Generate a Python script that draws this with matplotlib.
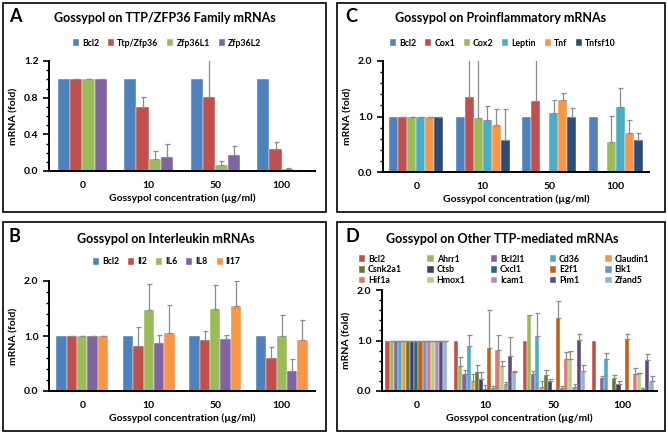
import numpy as np
import matplotlib
matplotlib.use("Agg")
import matplotlib.pyplot as plt
from matplotlib.patches import Rectangle
from matplotlib.ticker import MultipleLocator

plt.rcParams['font.family'] = ['Lato', 'DejaVu Sans']
plt.rcParams['font.weight'] = 'bold'
plt.rcParams['axes.labelweight'] = 'bold'

W, H = 668, 438
conc = ["0", "10", "50", "100"]
nan = np.nan

# Panel A - TTP/ZFP36 family
a_names = ["Bcl2", "Ttp/Zfp36", "Zfp36L1", "Zfp36L2"]
a_vals = [[1.0, 1.0, 1.0, 1.0],
          [1.0, 0.70, 0.81, 0.24],
          [1.0, 0.13, 0.07, 0.02],
          [1.0, 0.15, 0.18, 0.005]]
a_err = [None,
         [0, 0.11, 0.45, 0.08],
         [0, 0.09, 0.04, 0.01],
         [0, 0.15, 0.09, 0.005]]

# Panel B - interleukins
b_names = ["Bcl2", "Il2", "IL6", "IL8", "Il17"]
b_vals = [[1.0, 1.0, 1.0, 1.0],
          [1.0, 0.82, 0.92, 0.60],
          [1.0, 1.47, 1.49, 1.00],
          [1.0, 0.88, 0.94, 0.36],
          [1.0, 1.05, 1.54, 0.93]]
b_err = [None,
         [0, 0.34, 0.18, 0.20],
         [0, 0.48, 0.44, 0.38],
         [0, 0.14, 0.08, 0.22],
         [0, 0.52, 0.46, 0.37]]

# Panel C - proinflammatory
c_names = ["Bcl2", "Cox1", "Cox2", "Leptin", "Tnf", "Tnfsf10"]
c_vals = [[1.0, 1.0, 1.0, 1.0],
          [1.0, 1.35, 1.28, 0],
          [1.0, 0.97, 0, 0.54],
          [1.0, 0.94, 1.07, 1.17],
          [1.0, 0.85, 1.29, 0.70],
          [1.0, 0.57, 1.00, 0.57]]
c_err = [None,
         [0, 1.0, 1.0, nan],
         [0, 1.2, nan, 0.47],
         [0, 0.25, 0.23, 0.35],
         [0, 0.29, 0.13, 0.24],
         [0, 0.57, 0.15, 0.13]]

# Panel D - other TTP-mediated
d_names = ["Bcl2", "Ahrr1", "Bcl2l1", "Cd36", "Claudin1",
           "Csnk2a1", "Ctsb", "Cxcl1", "E2f1", "Elk1",
           "Hif1a", "Hmox1", "Icam1", "Pim1", "Zfand5"]
d_vals = [[1.0, 1.0, 1.0, 1.0],
          [1.0, 0.50, 1.51, 0],
          [1.0, 0.33, 0.33, 0.25],
          [1.0, 0.90, 1.09, 0.64],
          [1.0, 0.20, 0.08, 0],
          [1.0, 0.37, 0.32, 0.25],
          [1.0, 0.23, 0.19, 0.14],
          [1.0, 0.03, 0.01, 0],
          [1.0, 0.85, 1.44, 1.03],
          [1.0, 0.05, 0.05, 0],
          [1.0, 0.81, 0.63, 0.33],
          [1.0, 0.50, 0.63, 0.35],
          [1.0, 0.13, 0.07, 0.05],
          [1.0, 0.69, 1.01, 0.62],
          [1.0, 0.37, 0.39, 0.20]]
d_err = [None,
         [0, 0.17, nan, nan],
         [0, 0.08, 0.07, 0.05],
         [0, 0.20, 0.46, 0.12],
         [0, 0.14, 0.12, nan],
         [0, 0.14, 0.10, 0.07],
         [0, 0.14, 0.05, 0.06],
         [0, 0.09, 0.01, nan],
         [0, 0.75, 0.34, 0.09],
         [0, 0.04, 0.05, nan],
         [0, 0.29, 0.15, 0.13],
         [0, 0.10, 0.16, 0.01],
         [0, 0.05, 0.07, 0.0],
         [0, 0.37, 0.11, 0.11],
         [0, 0.03, 0.12, 0.10]]

c_blue, c_red, c_green, c_purple = "#4F81BD", "#C0504D", "#9BBB59", "#8064A2"
c_aqua, c_orange, c_navy = "#4BACC6", "#F79646", "#2C4D75"
a_colors = [c_blue, c_red, c_green, c_purple]
b_colors = [c_blue, c_red, c_green, c_purple, c_orange]
c_colors = [c_blue, c_red, c_green, c_aqua, c_orange, c_navy]
d_colors = [c_red, c_green, c_purple, c_aqua, c_orange,
            "#5E7A2E", "#4B3A66", "#25697A", "#C0601B", "#6F93C9",
            "#DC7A78", "#B5CF8A", "#A592C2", "#604A7B", "#95B3D7"]

fig = plt.figure(figsize=(W / 100, H / 100), dpi=100)


def box(l, t, r, b):
    fig.patches.append(Rectangle((l / W, 1 - b / H), (r - l) / W, (b - t) / H,
                                 transform=fig.transFigure, fill=False,
                                 edgecolor="black", linewidth=1.2))


def make_ax(l, t, r, b):
    return fig.add_axes([l / W, 1 - b / H, (r - l) / W, (b - t) / H])


def draw_panel(ax, names, vals, errs, colors, frac, ymax, major, minor):
    n = len(names)
    x = np.arange(len(conc))
    w = frac / n
    handles = []
    for i in range(n):
        pos = x - frac / 2 + w * (i + 0.5)
        h = ax.bar(pos, vals[i], w, color=colors[i], label=names[i],
                   edgecolor="white", linewidth=0.3)
        handles.append(h)
        if errs[i] is not None:
            e = np.array(errs[i], float)
            ax.errorbar(pos, vals[i], yerr=[np.zeros_like(e), e], fmt="none",
                        ecolor="#8C8C8C", elinewidth=0.9, capsize=1.8,
                        capthick=0.9)
    ax.set_xlim(-0.5, 3.5)
    ax.set_ylim(0, ymax)
    ax.set_xticks(x)
    ax.set_xticklabels(conc)
    ax.yaxis.set_major_locator(MultipleLocator(major))
    ax.yaxis.set_minor_locator(MultipleLocator(minor))
    ax.yaxis.set_major_formatter(plt.FormatStrFormatter("%.1f"))
    ax.tick_params(axis="y", which="major", length=4, width=1.2, labelsize=7.5)
    ax.tick_params(axis="y", which="minor", length=2.5, width=1.0)
    ax.tick_params(axis="x", length=0, labelsize=7.5, pad=7)
    for lbl in ax.get_xticklabels() + ax.get_yticklabels():
        lbl.set_fontweight("bold")
    for s in ["top", "right"]:
        ax.spines[s].set_visible(False)
    for s in ["left", "bottom"]:
        ax.spines[s].set_linewidth(1.4)
    ax.set_ylabel("mRNA (fold)", fontsize=7.5, fontweight="bold", labelpad=4)
    ax.set_xlabel("Gossypol concentration (\u00b5g/ml)", fontsize=7.5,
                  fontweight="bold", labelpad=3)
    return handles


def legend(ax, handles, names, cx, cy, ncol, colsp=1.0):
    ax.legend(handles, names, loc="center", bbox_to_anchor=(cx / W, 1 - cy / H),
              bbox_transform=fig.transFigure, ncol=ncol, frameon=False,
              prop={"size": 6.3, "weight": "bold"},
              handlelength=0.7, handleheight=0.7,
              handletextpad=0.35, columnspacing=colsp, borderaxespad=0,
              labelspacing=0.22)


# boxes
box(3, 3, 326, 212)
box(337, 3, 665, 212)
box(3, 222, 326, 431)
box(337, 222, 665, 431)

tsize = 9.0

# A
ax = make_ax(49, 61, 315, 171)
hs = draw_panel(ax, a_names, a_vals, a_err, a_colors, 0.74, 1.2, 0.4, 0.1)
legend(ax, hs, a_names, 167, 43, 4)
fig.text(165 / W, 1 - 18 / H, "Gossypol on TTP/ZFP36 Family mRNAs",
         ha="center", va="center", fontsize=tsize, fontweight="bold")
fig.text(9 / W, 1 - 16 / H, "A", ha="left", va="center", fontsize=13,
         fontweight="bold")

# C
ax = make_ax(383, 61, 649, 172)
hs = draw_panel(ax, c_names, c_vals, c_err, c_colors, 0.81, 2.0, 1.0, 0.2)
legend(ax, hs, c_names, 503, 43, 6)
fig.text(501 / W, 1 - 18 / H, "Gossypol on Proinflammatory mRNAs",
         ha="center", va="center", fontsize=tsize, fontweight="bold")
fig.text(345 / W, 1 - 16 / H, "C", ha="left", va="center", fontsize=13,
         fontweight="bold")

# B
ax = make_ax(49, 281, 315, 391)
hs = draw_panel(ax, b_names, b_vals, b_err, b_colors, 0.78, 2.0, 1.0, 0.2)
legend(ax, hs, b_names, 167, 262, 5)
fig.text(166 / W, 1 - 239 / H, "Gossypol on Interleukin mRNAs",
         ha="center", va="center", fontsize=tsize, fontweight="bold")
fig.text(9 / W, 1 - 236 / H, "B", ha="left", va="center", fontsize=13,
         fontweight="bold")

# D
ax = make_ax(382, 290, 657, 391)
hs = draw_panel(ax, d_names, d_vals, d_err, d_colors, 0.9, 2.0, 1.0, 0.2)
order = [r * 5 + c for c in range(5) for r in range(3)]
legend(ax, [hs[k] for k in order], [d_names[k] for k in order], 504, 270, 5, 2.9)
fig.text(502 / W, 1 - 239 / H, "Gossypol on Other TTP-mediated mRNAs",
         ha="center", va="center", fontsize=tsize, fontweight="bold")
fig.text(345 / W, 1 - 236 / H, "D", ha="left", va="center", fontsize=13,
         fontweight="bold")

fig.savefig("out.png", dpi=100)
